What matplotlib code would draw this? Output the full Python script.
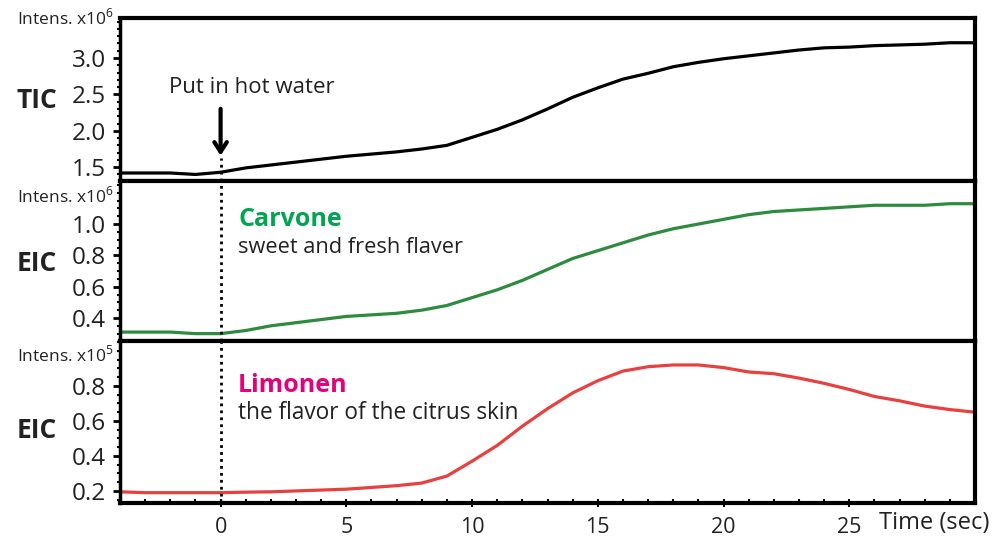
import matplotlib
matplotlib.use("Agg")
import matplotlib.pyplot as plt
from matplotlib.ticker import MultipleLocator

plt.rcParams['font.family'] = ['Open Sans', 'DejaVu Sans']
plt.rcParams['mathtext.fontset'] = 'custom'
plt.rcParams['mathtext.rm'] = 'Open Sans'

time = list(range(-4, 31))
tic = [1.42, 1.42, 1.42, 1.40, 1.43, 1.49, 1.53, 1.57, 1.61, 1.65, 1.68, 1.71, 1.75, 1.80,
       1.91, 2.02, 2.15, 2.30, 2.46, 2.59, 2.71, 2.79, 2.88, 2.94, 2.99, 3.03, 3.07, 3.11,
       3.14, 3.15, 3.17, 3.18, 3.19, 3.21, 3.21]
carvone = [0.31, 0.31, 0.31, 0.30, 0.30, 0.32, 0.35, 0.37, 0.39, 0.41, 0.42, 0.43, 0.45, 0.48,
           0.53, 0.58, 0.64, 0.71, 0.78, 0.83, 0.88, 0.93, 0.97, 1.00, 1.03, 1.06, 1.08, 1.09,
           1.10, 1.11, 1.12, 1.12, 1.12, 1.13, 1.13]
limonen = [0.195, 0.19, 0.19, 0.19, 0.19, 0.193, 0.195, 0.20, 0.205, 0.21, 0.22, 0.23, 0.245, 0.285,
           0.37, 0.46, 0.57, 0.67, 0.76, 0.83, 0.885, 0.91, 0.92, 0.92, 0.905, 0.88, 0.87, 0.845,
           0.815, 0.78, 0.74, 0.715, 0.685, 0.665, 0.65]

xticks = [0, 5, 10, 15, 20, 25]
tic_ticks = [1.5, 2.0, 2.5, 3.0]
carv_ticks = [0.4, 0.6, 0.8, 1.0]
lim_ticks = [0.2, 0.4, 0.6, 0.8]

W, H = 992, 537
fig = plt.figure(figsize=(W / 100, H / 100), dpi=100)

def add_ax(top_px, bot_px):
    return fig.add_axes([120 / W, 1 - bot_px / H, (975 - 120) / W, (bot_px - top_px) / H])

ax1 = add_ax(18, 181)
ax2 = add_ax(181, 341)
ax3 = add_ax(341, 503)

specs = [
    (ax1, tic, 'black', (1.31, 3.55), tic_ticks, 0.1, 'TIC', r'Intens. x10$^6$', 18, 100),
    (ax2, carvone, '#2e8b3e', (0.253, 1.275), carv_ticks, 0.05, 'EIC', r'Intens. x10$^6$', 196, 264),
    (ax3, limonen, '#e8403f', (0.131, 1.057), lim_ticks, 0.05, 'EIC', r'Intens. x10$^5$', 355, 431),
]

for ax, y, col, ylim, yt, minor, lab, intens, lab_px, big_px in specs:
    ax.plot(time, y, color=col, lw=2.3, solid_capstyle='round')
    ax.set_xlim(-4, 30)
    ax.set_ylim(*ylim)
    ax.set_yticks(yt)
    ax.set_yticklabels(['{:.1f}'.format(v) for v in yt], fontsize=17.5, color='#222222')
    ax.yaxis.set_minor_locator(MultipleLocator(minor))
    ax.tick_params(axis='y', which='major', direction='out', length=5, width=2, pad=5)
    ax.tick_params(axis='y', which='minor', direction='out', length=2.5, width=1.5)
    ax.xaxis.set_minor_locator(MultipleLocator(1))
    for s in ['top', 'bottom', 'right']:
        ax.spines[s].set_linewidth(3)
    ax.spines['left'].set_linewidth(2.5)
    fig.text(114 / W, 1 - lab_px / H, intens, ha='right', va='center', fontsize=12.5, color='#222222')
    fig.text(37 / W, 1 - big_px / H, lab, ha='center', va='center', fontsize=19,
             fontweight='bold', color='#222222')

for ax in (ax1, ax2):
    ax.set_xticks(xticks)
    ax.tick_params(axis='x', which='both', length=0, labelbottom=False)

ax3.set_xticks(xticks)
ax3.set_xticklabels([str(v) for v in xticks], fontsize=15.5, color='#222222')
ax3.tick_params(axis='x', which='major', direction='inout', length=6, width=1.5, pad=7)
ax3.tick_params(axis='x', which='minor', direction='in', length=3, width=1.5)
fig.text(934 / W, 1 - 523 / H, 'Time (sec)', ha='center', va='center', fontsize=17, color='#222222')

# dotted line at time 0
ax1.axvline(0, ymin=0, ymax=0.14, color='black', lw=2, ls=(0, (1, 1.5)))
ax2.axvline(0, color='black', lw=2, ls=(0, (1, 1.5)))
ax3.axvline(0, color='black', lw=2, ls=(0, (1, 1.5)))

ax1.annotate('', xy=(0, 1.62), xytext=(0, 2.34),
             arrowprops=dict(arrowstyle='->,head_length=0.7,head_width=0.45', lw=3, color='black'))
ax1.text(1.25, 2.59, 'Put in hot water', ha='center', va='center', fontsize=16, color='#222222')

ax2.text(0.7, 1.026, 'Carvone', ha='left', va='center', fontsize=18, fontweight='bold', color='#00a550')
ax2.text(0.7, 0.853, 'sweet and fresh flaver', ha='left', va='center', fontsize=15.7, color='#222222')
ax3.text(0.7, 0.80, 'Limonen', ha='left', va='center', fontsize=18, fontweight='bold', color='#e6007e')
ax3.text(0.7, 0.646, 'the flavor of the citrus skin', ha='left', va='center', fontsize=16.3, color='#222222')

fig.savefig('out.png', dpi=100)
